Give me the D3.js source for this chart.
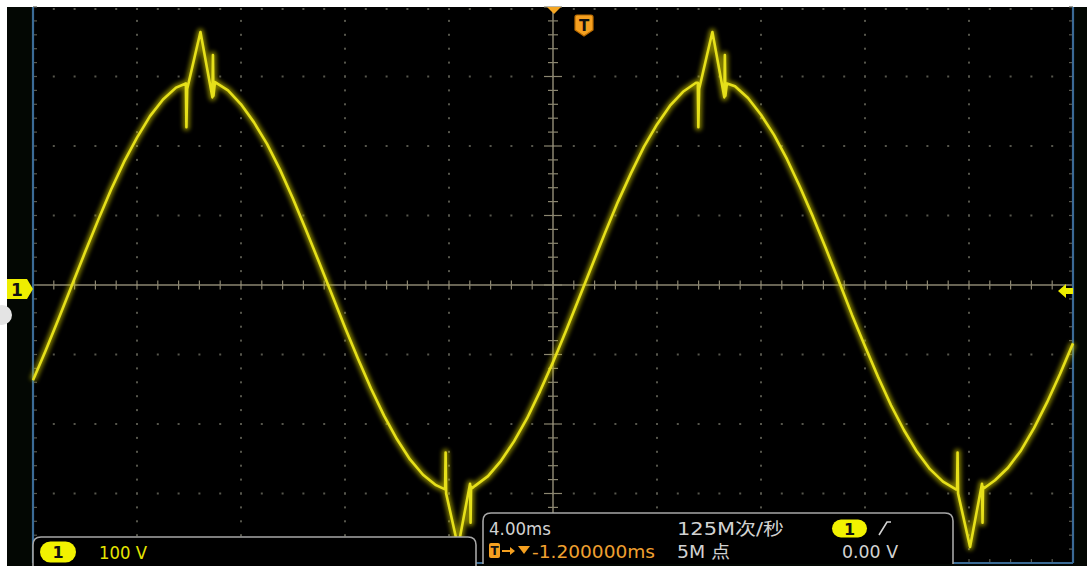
<!DOCTYPE html>
<html>
<head>
<meta charset="utf-8">
<script src="https://cdn.jsdelivr.net/npm/d3@7"></script>
<style>
  html, body { margin: 0; padding: 0; background: #fff; }
  svg { display: block; }
  text { font-family: "DejaVu Sans", "Noto Sans CJK SC", sans-serif; }
</style>
</head>
<body>
<div id="scope_container"></div>
<script>
// captured trace: time (ms, 0 = screen centre) and voltage (V)
const traceMs = [
  -20, -19.5, -19, -18.5, -18, -17.5, -17, -16.5, -16, -15.5, -15, -14.5,
  -14.12, -14.10, -14.07, -13.56, -13.10, -13.08, -13.06, -13.0,
  -12.5, -12, -11.5, -11, -10.5, -10, -9.5, -9, -8.5, -8, -7.5, -7, -6.5, -6, -5.5, -5, -4.5,
  -4.15, -4.13, -4.11, -3.65, -3.19, -3.17, -3.15, -3.1,
  -3, -2.5, -2, -1.5, -1, -0.5, 0, 0.5, 1, 1.5, 2, 2.5, 3, 3.5, 4, 4.5, 5, 5.5,
  5.57, 5.59, 5.62, 6.13, 6.59, 6.61, 6.63, 6.69,
  7, 7.5, 8, 8.5, 9, 9.5, 10, 10.5, 11, 11.5, 12, 12.5, 13, 13.5, 14, 14.5, 15, 15.5,
  15.54, 15.56, 15.58, 16.04, 16.50, 16.52, 16.54, 16.59,
  17, 17.5, 18, 18.5, 19, 19.5, 20
];
const traceVolts = [
  -137, -93, -47, 0, 47, 93, 137, 177, 212, 243, 267, 284,
  290, 227, 282, 364, 270, 331, 272, 292,
  280, 260, 234, 203, 166, 124, 79, 33, -14, -61, -106, -149, -188, -222, -251, -273, -288,
  -294, -241, -300, -377, -286, -342, -290, -292,
  -289, -275, -253, -225, -192, -153, -111, -66, -19, 28, 75, 120, 161, 199, 231, 258, 278, 291,
  291, 227, 282, 364, 270, 331, 272, 290,
  286, 269, 245, 216, 181, 141, 98, 52, 5, -43, -88, -132, -173, -209, -240, -265, -283, -294,
  -294, -241, -300, -377, -286, -342, -290, -292,
  -281, -263, -238, -206, -169, -128, -84
];

const msPerDiv = 4, voltsPerDiv = 100;
const hDivs = 10, vDivs = 8;

// readout labels
const chanLabel = "1", chanScale = "100 V";
const timeScale = "4.00ms", sampleRate = "125M次/秒", recordLen = "5M 点";
const trigDelay = "-1.200000ms", trigLevel = "0.00 V";

const W = 1087, H = 566;
const grat = { left: 33, top: 7, width: 1040, height: 556 };

const svg = d3.select("#scope_container")
    .append("svg")
    .attr("width", W)
    .attr("height", H);

const defs = svg.append("defs");
defs.append("filter").attr("id", "glow")
    .attr("x", "-5%").attr("y", "-5%").attr("width", "110%").attr("height", "110%")
    .append("feGaussianBlur").attr("stdDeviation", 2);

// white frame + black screen
svg.append("rect").attr("width", W).attr("height", H).attr("fill", "#fff");
svg.append("rect").attr("x", 7).attr("y", 7).attr("width", W - 7).attr("height", H - 7).attr("fill", "#030703");
svg.append("rect").attr("x", grat.left).attr("y", grat.top)
    .attr("width", grat.width).attr("height", grat.height).attr("fill", "#000");

const x = d3.scaleLinear()
    .domain([-msPerDiv * hDivs / 2, msPerDiv * hDivs / 2])
    .range([grat.left, grat.left + grat.width]);
const y = d3.scaleLinear()
    .domain([-voltsPerDiv * vDivs / 2, voltsPerDiv * vDivs / 2])
    .range([grat.top + grat.height, grat.top]);

const majorT = d3.range(-20, 20.001, msPerDiv);
const minorT = d3.range(0, 51).map(i => -20 + i * msPerDiv / 5);
const majorV = d3.range(-400, 400.1, voltsPerDiv);
const minorV = d3.range(0, 41).map(i => -400 + i * voltsPerDiv / 5);

// dotted graticule
const dots = [];
majorT.filter(t => t > -20 && t < 20 && t !== 0).forEach(t => {
    minorV.forEach(v => dots.push([x(t), Math.max(y(v), 9)]));
});
majorV.filter(v => v !== 0 && v > -400).forEach(v => {
    minorT.forEach(t => dots.push([x(t), Math.max(y(v), 9)]));
});
svg.append("g").selectAll("rect")
    .data(dots)
    .enter().append("rect")
    .attr("x", d => d[0] - 1)
    .attr("y", d => d[1] - 1)
    .attr("width", 2)
    .attr("height", 2)
    .attr("fill", "#56564c");

// centre cross with ticks
const cx = x(0), cy = y(0);
const cross = svg.append("g").attr("stroke", "#8b8670").attr("stroke-width", 1.5);
cross.append("line").attr("x1", grat.left).attr("x2", grat.left + grat.width).attr("y1", cy).attr("y2", cy);
cross.append("line").attr("x1", cx).attr("x2", cx).attr("y1", grat.top).attr("y2", grat.top + grat.height);
cross.selectAll(".tx").data(minorT).enter().append("line")
    .attr("x1", d => x(d)).attr("x2", d => x(d))
    .attr("y1", cy - 4.5).attr("y2", cy + 4.5)
    .attr("stroke-width", 1.2);
cross.selectAll(".ty").data(minorV).enter().append("line")
    .attr("y1", d => y(d)).attr("y2", d => y(d))
    .attr("x1", d => cx - (d % 100 === 0 ? 9 : 5))
    .attr("x2", d => cx + (d % 100 === 0 ? 9 : 5))
    .attr("stroke-width", 1.2);

// border ticks + blue frame
const bt = svg.append("g").attr("stroke", "#5a5a50").attr("stroke-width", 1.2);
minorV.forEach(v => {
    bt.append("line").attr("x1", grat.left).attr("x2", grat.left + 4).attr("y1", y(v)).attr("y2", y(v));
    bt.append("line").attr("x1", grat.left + grat.width - 4).attr("x2", grat.left + grat.width).attr("y1", y(v)).attr("y2", y(v));
});
minorT.forEach(t => {
    bt.append("line").attr("x1", x(t)).attr("x2", x(t)).attr("y1", grat.top + grat.height - 4).attr("y2", grat.top + grat.height);
});
const frame = svg.append("g").attr("stroke", "#3b6b96").attr("stroke-width", 2.2);
frame.append("line").attr("x1", grat.left).attr("x2", grat.left).attr("y1", grat.top).attr("y2", grat.top + grat.height);
frame.append("line").attr("x1", grat.left + grat.width).attr("x2", grat.left + grat.width).attr("y1", grat.top).attr("y2", grat.top + grat.height);
frame.append("line").attr("x1", grat.left).attr("x2", grat.left + grat.width).attr("y1", grat.top + grat.height).attr("y2", grat.top + grat.height);

// waveform
const trace = traceMs.map((t, i) => ({ t: t, v: traceVolts[i] }));
const line = d3.line().x(d => x(d.t)).y(d => y(d.v));
svg.append("path").datum(trace)
    .attr("d", line)
    .attr("fill", "none")
    .attr("stroke", "#cfc800")
    .attr("stroke-width", 7)
    .attr("stroke-linejoin", "round")
    .attr("opacity", 0.6)
    .attr("filter", "url(#glow)");
svg.append("path").datum(trace)
    .attr("d", line)
    .attr("fill", "none")
    .attr("stroke", "#e6e01a")
    .attr("stroke-width", 2.6)
    .attr("stroke-linejoin", "round");

// markers
svg.append("path").attr("d", "M547,7 L561,7 L554,14 Z").attr("fill", "#f5a623");
svg.append("path")
    .attr("d", "M577,15 H591 Q593,15 593,17 V30 L584,36 L575,30 V17 Q575,15 577,15 Z")
    .attr("fill", "#f5a020").attr("stroke", "#b86a00").attr("stroke-width", 1.2);
svg.append("text").attr("x", 584).attr("y", 31).attr("text-anchor", "middle")
    .attr("font-size", 15).attr("font-weight", "bold").attr("fill", "#111").text("T");

svg.append("path").attr("d", "M7,279 H27 L33,289 L27,299 H7 Z").attr("fill", "#eeee00");
svg.append("text").attr("x", 17).attr("y", 296).attr("text-anchor", "middle")
    .attr("font-size", 17).attr("font-weight", "bold").attr("fill", "#111").text(chanLabel);
svg.append("path").attr("d", "M1058,291 L1066,284 V288 H1073 V294 H1066 V298 Z").attr("fill", "#eeee00");
svg.append("circle").attr("cx", 2).attr("cy", 315).attr("r", 10).attr("fill", "#e4e4e4");

// readout boxes
function box(x0, y0, x1, y1) {
    svg.append("path")
        .attr("d", `M${x0},${y1} V${y0 + 8} Q${x0},${y0} ${x0 + 8},${y0} H${x1 - 8} Q${x1},${y0} ${x1},${y0 + 8} V${y1}`)
        .attr("fill", "#000")
        .attr("stroke", "#a6a6a6")
        .attr("stroke-width", 1.6);
}
function pill(cxp, cyp, w, h) {
    svg.append("rect").attr("x", cxp - w / 2).attr("y", cyp - h / 2)
        .attr("width", w).attr("height", h).attr("rx", h / 2).attr("fill", "#f2f200");
    svg.append("text").attr("x", cxp).attr("y", cyp + 6).attr("text-anchor", "middle")
        .attr("font-size", 16).attr("font-weight", "bold").attr("fill", "#111").text(chanLabel);
}
function label(tx, ty, str, len, col) {
    svg.append("text").attr("x", tx).attr("y", ty)
        .attr("font-size", 17).attr("fill", col)
        .attr("textLength", len).attr("lengthAdjust", "spacingAndGlyphs")
        .text(str);
}

box(33, 537, 476, 570);
pill(58, 552, 36, 21);
label(99, 559, chanScale, 48, "#e6e600");

box(483, 513, 953, 564);
label(489, 535, timeScale, 62, "#d2d2d2");
label(677, 535, sampleRate, 107, "#d2d2d2");
pill(849.5, 528.5, 35, 18);
svg.append("path").attr("d", "M879,535 L887,522 L891,522")
    .attr("fill", "none").attr("stroke", "#d2d2d2").attr("stroke-width", 1.6);

svg.append("rect").attr("x", 489).attr("y", 543).attr("width", 11).attr("height", 15).attr("rx", 2).attr("fill", "#f5a020");
svg.append("text").attr("x", 494.5).attr("y", 555).attr("text-anchor", "middle")
    .attr("font-size", 12).attr("font-weight", "bold").attr("fill", "#111").text("T");
svg.append("path").attr("d", "M502,551 H512").attr("stroke", "#f5a020").attr("stroke-width", 2);
svg.append("path").attr("d", "M510,547 L515,551 L510,555 Z").attr("fill", "#f5a020");
svg.append("path").attr("d", "M518,546 L530,546 L524,554 Z").attr("fill", "#f5a020");
label(532, 558, trigDelay, 123, "#f0a030");
label(677, 558, recordLen, 53, "#d2d2d2");
label(842, 558, trigLevel, 56, "#d2d2d2");
</script>
</body>
</html>
